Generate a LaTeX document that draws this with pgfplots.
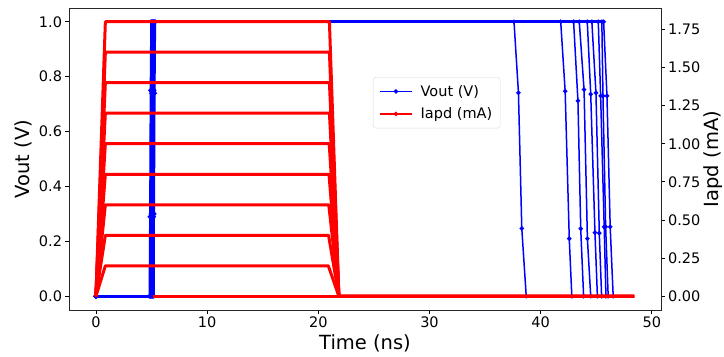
\documentclass[border=0pt]{standalone}
\usepackage{fontspec}
\setmainfont{DejaVu Sans}
\usepackage{pgfplots}
\pgfplotsset{compat=1.18}
\begin{document}
\begin{tikzpicture}
\useasboundingbox (-69bp,-47bp) rectangle (655bp,310bp);
\pgfplotsset{
 common/.style={
  scale only axis, width=592bp, height=302bp, at={(0,0)}, anchor=south west,
  xmin=-2.42, xmax=50.82,
  tick align=outside, major tick length=3.5bp,
  every tick/.style={black, line width=0.8bp},
  axis line style={line width=0.8bp, black!85},
  ticklabel style={font=\fontsize{14.5bp}{17bp}\selectfont},
  label style={font=\fontsize{19.5bp}{23bp}\selectfont},
  /pgf/number format/assume math mode=true,
  clip=false,
 },
 blueline/.style={blue, line width=1.5bp, mark=*, mark size=1.4bp, mark options={solid}},
 redline/.style={red, line width=3bp, line join=round},
}
\begin{axis}[common,
  ymin=-0.05, ymax=1.05,
  xtick={0,10,20,30,40,50}, xtick pos=bottom,
  ytick={0,0.2,0.4,0.6,0.8,1}, ytick pos=left,
  yticklabel style={/pgf/number format/.cd, fixed, fixed zerofill, precision=1},
  xticklabel style={/pgf/number format/.cd, fixed},
  xlabel={Time (ns)}, ylabel={Vout (V)},
]
% thick overlapping parts of all Vout traces
\addplot[blue, line width=3.5bp, forget plot] coordinates {(0,0)(5.0,0)};
\addplot[blue, line width=3.5bp, forget plot] coordinates {(5.1,1)(45.66,1)};
\addplot[blue, line width=5bp, forget plot] coordinates {(5.05,0)(5.05,1)};
% individual Vout traces
\addplot[blueline, forget plot] coordinates {(0,0)(4.80,0)(4.85,0.29)(4.90,0.75)(4.95,1)(37.60,1)(38.00,0.741)(38.30,0.247)(38.70,0)};
\addplot[blueline, forget plot] coordinates {(0,0)(4.85,0)(4.90,0.29)(4.95,0.75)(5.00,1)(41.80,1)(42.20,0.747)(42.57,0.210)(42.80,0)};
\addplot[blueline, forget plot] coordinates {(0,0)(4.90,0)(4.95,0.30)(5.00,0.74)(5.05,1)(42.96,1)(43.35,0.712)(43.60,0.246)(43.86,0)};
\addplot[blueline, forget plot] coordinates {(0,0)(4.95,0)(5.00,0.29)(5.05,0.75)(5.10,1)(43.47,1)(43.90,0.753)(44.20,0.210)(44.50,0)};
\addplot[blueline, forget plot] coordinates {(0,0)(5.00,0)(5.05,0.30)(5.10,0.74)(5.15,1)(44.19,1)(44.50,0.736)(44.88,0.232)(45.10,0)};
\addplot[blueline, forget plot] coordinates {(0,0)(5.05,0)(5.10,0.29)(5.15,0.75)(5.20,1)(44.60,1)(44.97,0.741)(45.27,0.230)(45.48,0)};
\addplot[blueline, forget plot] coordinates {(0,0)(5.10,0)(5.15,0.30)(5.20,0.74)(5.25,1)(45.18,1)(45.39,0.730)(45.71,0.253)(45.87,0)};
\addplot[blueline, forget plot] coordinates {(0,0)(5.15,0)(5.20,0.29)(5.25,0.75)(5.30,1)(45.50,1)(45.60,0.730)(45.84,0.253)(46.07,0)};
\addplot[blueline, forget plot] coordinates {(0,0)(5.20,0)(5.25,0.30)(5.30,0.74)(5.35,1)(45.66,1)(45.96,0.730)(46.25,0.253)(46.52,0)};
\end{axis}
\begin{axis}[common,
  ymin=-0.09, ymax=1.89,
  hide x axis, axis y line*=right,
  ytick={0,0.25,0.5,0.75,1,1.25,1.5,1.75},
  yticklabel style={/pgf/number format/.cd, fixed, fixed zerofill, precision=2},
  ylabel={Iapd (mA)}, ylabel shift=-3bp,
  legend cell align=left,
  legend style={at={(0.5135,0.7715)}, anchor=north west,
    draw=black!15, rounded corners=3bp, fill=white, fill opacity=0.8, text opacity=1,
    font=\fontsize{14.5bp}{17bp}\selectfont, inner xsep=6bp, inner ysep=6bp,
    row sep=6bp, column sep=6bp},
  legend image code/.code={\draw[mark repeat=2,mark phase=2,#1] plot coordinates {(0bp,0bp)(16bp,0bp)(32bp,0bp)};},
]
\addlegendimage{blue, line width=1.5bp, mark=*, mark size=1.4bp}
\addlegendentry{Vout (V)}
\addlegendimage{red, line width=1.5bp, mark=*, mark size=1.4bp}
\addlegendentry{Iapd (mA)}
\addplot[redline, forget plot] coordinates {(5.1,0)(48.4,0)};
\addplot[redline, forget plot] coordinates {(0,0)(0.85,0.2)(20.90,0.2)(21.85,0)(48.4,0)};
\addplot[redline, forget plot] coordinates {(0,0)(0.85,0.4)(20.92,0.4)(21.85,0)(48.4,0)};
\addplot[redline, forget plot] coordinates {(0,0)(0.85,0.6)(20.94,0.6)(21.85,0)(48.4,0)};
\addplot[redline, forget plot] coordinates {(0,0)(0.85,0.8)(20.96,0.8)(21.85,0)(48.4,0)};
\addplot[redline, forget plot] coordinates {(0,0)(0.85,1.0)(20.98,1.0)(21.85,0)(48.4,0)};
\addplot[redline, forget plot] coordinates {(0,0)(0.85,1.2)(21.00,1.2)(21.85,0)(48.4,0)};
\addplot[redline, forget plot] coordinates {(0,0)(0.85,1.4)(21.00,1.4)(21.85,0)(48.4,0)};
\addplot[redline, forget plot] coordinates {(0,0)(0.85,1.6)(21.00,1.6)(21.85,0)(48.4,0)};
\addplot[redline, forget plot] coordinates {(0,0)(0.85,1.8)(21.00,1.8)(21.85,0)(48.4,0)};
\end{axis}
\end{tikzpicture}
\end{document}
